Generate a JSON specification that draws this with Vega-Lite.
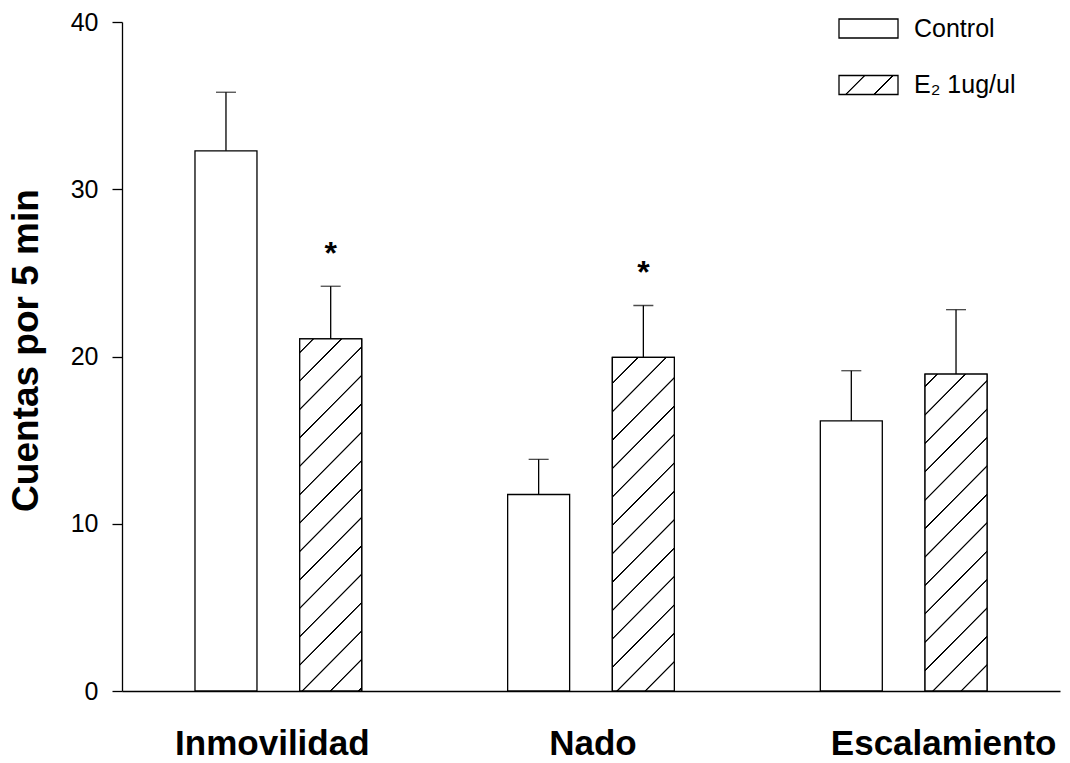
{
  "$schema": "https://vega.github.io/schema/vega-lite/v6.json",
  "autosize": "none",
  "padding": {"left": 122, "top": 22, "right": 10, "bottom": 72},
  "width": 938,
  "height": 669,
  "background": "white",
  "config": {
    "view": {"stroke": null},
    "font": "Liberation Sans"
  },
  "data": {
    "values": [
      {"cat": "Inmovilidad", "group": "Control", "value": 32.3, "err": 35.8, "sig": ""},
      {"cat": "Inmovilidad", "group": "E₂ 1ug/ul", "value": 21.05, "err": 24.2, "sig": "*"},
      {"cat": "Nado", "group": "Control", "value": 11.75, "err": 13.85, "sig": ""},
      {"cat": "Nado", "group": "E₂ 1ug/ul", "value": 19.95, "err": 23.05, "sig": "*"},
      {"cat": "Escalamiento", "group": "Control", "value": 16.15, "err": 19.15, "sig": ""},
      {"cat": "Escalamiento", "group": "E₂ 1ug/ul", "value": 18.95, "err": 22.8, "sig": ""}
    ]
  },
  "encoding": {
    "x": {
      "field": "cat", "type": "nominal",
      "sort": ["Inmovilidad", "Nado", "Escalamiento"],
      "scale": {"paddingInner": 0, "paddingOuter": 0},
      "axis": {
        "title": null, "ticks": false, "labelAngle": 0,
        "labelFontSize": 35, "labelFontWeight": "bold", "labelColor": "black",
        "labelBaseline": "alphabetic", "labelPadding": 63, "labelLimit": 0,
        "labelOverlap": false, "labelFlush": false,
        "labelOffset": {"condition": [
          {"test": "datum.value === 'Escalamiento'", "value": 40},
          {"test": "datum.value === 'Inmovilidad'", "value": -6}
        ], "value": 2},
        "domainColor": "black", "domainWidth": 1.3
      }
    },
    "xOffset": {
      "field": "group", "type": "nominal",
      "scale": {"domain": ["Control", "E₂ 1ug/ul"], "paddingInner": 0.408, "paddingOuter": 0.697}
    },
    "y": {
      "field": "value", "type": "quantitative", "title": "Cuentas por 5 min",
      "scale": {"domain": [0, 40], "nice": false},
      "axis": {
        "values": [0, 10, 20, 30, 40], "grid": false,
        "tickSize": 10, "tickColor": "black", "tickWidth": 1.3,
        "domainColor": "black", "domainWidth": 1.3,
        "labelFontSize": 25, "labelColor": "black", "labelPadding": 14,
        "titleFontSize": 37, "titleFontWeight": "bold", "titleColor": "black",
        "titleX": -85, "titleY": 328, "titleBaseline": "alphabetic", "titleAngle": -90
      }
    }
  },
  "layer": [
    {
      "transform": [{"filter": "datum.group === 'Control'"}],
      "mark": {"type": "bar", "stroke": "black", "strokeWidth": 1.3, "fill": "white"},
      "encoding": {
        "fill": {
          "field": "group", "type": "nominal",
          "scale": {"domain": ["Control"], "range": ["white"]},
          "legend": {
            "orient": "none", "legendX": 731, "legendY": -9, "title": null, "padding": 0,
            "symbolType": "M-2,-0.644H2V0.644H-2Z", "symbolSize": 870.25,
            "symbolStrokeColor": "black", "symbolStrokeWidth": 1.3, "symbolOpacity": 1,
            "labelFontSize": 25, "labelColor": "black", "labelOffset": 30, "labelLimit": 300,
            "encode": {"symbols": {"update": {"stroke": {"value": "black"}, "strokeWidth": {"value": 1.3}, "opacity": {"value": 1}}}}
          }
        }
      }
    },
    {
      "transform": [{"filter": "datum.group !== 'Control'"}],
      "mark": {"type": "bar", "strokeWidth": 1.3,
        "fill": {"gradient": "linear", "x1": 0, "y1": 0, "x2": 1.1978, "y2": 0.3857, "stops": [
          {"offset": 0, "color": "white"},
          {"offset": 0.3128, "color": "white"}, {"offset": 0.3231, "color": "black"}, {"offset": 0.3359, "color": "black"}, {"offset": 0.3462, "color": "white"},
          {"offset": 0.6756, "color": "white"}, {"offset": 0.6859, "color": "black"}, {"offset": 0.6987, "color": "black"}, {"offset": 0.7090, "color": "white"},
          {"offset": 1, "color": "white"}]}
      },
      "encoding": {
        "stroke": {
          "field": "group", "type": "nominal",
          "scale": {"domain": ["E₂ 1ug/ul"], "range": ["black"]},
          "legend": {
            "orient": "none", "legendX": 731, "legendY": 47.5, "title": null, "padding": 0,
            "symbolType": "M-2,-0.644H2V0.644H-2Z", "symbolSize": 870.25,
            "symbolStrokeWidth": 1.3, "symbolOpacity": 1,
            "labelFontSize": 25, "labelColor": "black", "labelOffset": 30, "labelLimit": 300,
            "encode": {"symbols": {"update": {"strokeWidth": {"value": 1.3}, "opacity": {"value": 1}}}}
          }
        }
      }
    },
    {
      "transform": [{"filter": "datum.cat === 'Inmovilidad' && datum.group !== 'Control'"}],
      "mark": {"type": "bar", "stroke": "black", "strokeWidth": 1.3,
        "fill": {"gradient": "linear", "x1": 0, "y1": 0, "x2": 0.2027, "y2": 1.1416, "stops": [
          {"offset": 0, "color": "white"},
          {"offset": 0.0299, "color": "white"}, {"offset": 0.0318, "color": "black"}, {"offset": 0.0343, "color": "black"}, {"offset": 0.0362, "color": "white"},
          {"offset": 0.0984, "color": "white"}, {"offset": 0.1004, "color": "black"}, {"offset": 0.1028, "color": "black"}, {"offset": 0.1047, "color": "white"},
          {"offset": 0.1669, "color": "white"}, {"offset": 0.1689, "color": "black"}, {"offset": 0.1713, "color": "black"}, {"offset": 0.1732, "color": "white"},
          {"offset": 0.2355, "color": "white"}, {"offset": 0.2374, "color": "black"}, {"offset": 0.2398, "color": "black"}, {"offset": 0.2417, "color": "white"},
          {"offset": 0.3040, "color": "white"}, {"offset": 0.3059, "color": "black"}, {"offset": 0.3083, "color": "black"}, {"offset": 0.3103, "color": "white"},
          {"offset": 0.3725, "color": "white"}, {"offset": 0.3744, "color": "black"}, {"offset": 0.3768, "color": "black"}, {"offset": 0.3788, "color": "white"},
          {"offset": 0.4410, "color": "white"}, {"offset": 0.4429, "color": "black"}, {"offset": 0.4454, "color": "black"}, {"offset": 0.4473, "color": "white"},
          {"offset": 0.5095, "color": "white"}, {"offset": 0.5115, "color": "black"}, {"offset": 0.5139, "color": "black"}, {"offset": 0.5158, "color": "white"},
          {"offset": 0.5780, "color": "white"}, {"offset": 0.5800, "color": "black"}, {"offset": 0.5824, "color": "black"}, {"offset": 0.5843, "color": "white"},
          {"offset": 0.6466, "color": "white"}, {"offset": 0.6485, "color": "black"}, {"offset": 0.6509, "color": "black"}, {"offset": 0.6528, "color": "white"},
          {"offset": 0.7151, "color": "white"}, {"offset": 0.7170, "color": "black"}, {"offset": 0.7194, "color": "black"}, {"offset": 0.7214, "color": "white"},
          {"offset": 0.7836, "color": "white"}, {"offset": 0.7855, "color": "black"}, {"offset": 0.7879, "color": "black"}, {"offset": 0.7899, "color": "white"},
          {"offset": 0.8521, "color": "white"}, {"offset": 0.8540, "color": "black"}, {"offset": 0.8565, "color": "black"}, {"offset": 0.8584, "color": "white"},
          {"offset": 0.9206, "color": "white"}, {"offset": 0.9226, "color": "black"}, {"offset": 0.9250, "color": "black"}, {"offset": 0.9269, "color": "white"},
          {"offset": 0.9891, "color": "white"}, {"offset": 0.9911, "color": "black"}, {"offset": 0.9935, "color": "black"}, {"offset": 0.9954, "color": "white"},
          {"offset": 1, "color": "white"}]}
      }
    },
    {
      "transform": [{"filter": "datum.cat === 'Nado' && datum.group !== 'Control'"}],
      "mark": {"type": "bar", "stroke": "black", "strokeWidth": 1.3,
        "fill": {"gradient": "linear", "x1": 0, "y1": 0, "x2": 0.2148, "y2": 1.1471, "stops": [
          {"offset": 0, "color": "white"},
          {"offset": 0.0623, "color": "white"}, {"offset": 0.0644, "color": "black"}, {"offset": 0.0669, "color": "black"}, {"offset": 0.0689, "color": "white"},
          {"offset": 0.1340, "color": "white"}, {"offset": 0.1360, "color": "black"}, {"offset": 0.1386, "color": "black"}, {"offset": 0.1406, "color": "white"},
          {"offset": 0.2057, "color": "white"}, {"offset": 0.2077, "color": "black"}, {"offset": 0.2103, "color": "black"}, {"offset": 0.2123, "color": "white"},
          {"offset": 0.2774, "color": "white"}, {"offset": 0.2794, "color": "black"}, {"offset": 0.2819, "color": "black"}, {"offset": 0.2840, "color": "white"},
          {"offset": 0.3491, "color": "white"}, {"offset": 0.3511, "color": "black"}, {"offset": 0.3536, "color": "black"}, {"offset": 0.3556, "color": "white"},
          {"offset": 0.4208, "color": "white"}, {"offset": 0.4228, "color": "black"}, {"offset": 0.4253, "color": "black"}, {"offset": 0.4273, "color": "white"},
          {"offset": 0.4924, "color": "white"}, {"offset": 0.4945, "color": "black"}, {"offset": 0.4970, "color": "black"}, {"offset": 0.4990, "color": "white"},
          {"offset": 0.5641, "color": "white"}, {"offset": 0.5661, "color": "black"}, {"offset": 0.5687, "color": "black"}, {"offset": 0.5707, "color": "white"},
          {"offset": 0.6358, "color": "white"}, {"offset": 0.6378, "color": "black"}, {"offset": 0.6403, "color": "black"}, {"offset": 0.6424, "color": "white"},
          {"offset": 0.7075, "color": "white"}, {"offset": 0.7095, "color": "black"}, {"offset": 0.7120, "color": "black"}, {"offset": 0.7140, "color": "white"},
          {"offset": 0.7792, "color": "white"}, {"offset": 0.7812, "color": "black"}, {"offset": 0.7837, "color": "black"}, {"offset": 0.7857, "color": "white"},
          {"offset": 0.8508, "color": "white"}, {"offset": 0.8529, "color": "black"}, {"offset": 0.8554, "color": "black"}, {"offset": 0.8574, "color": "white"},
          {"offset": 0.9225, "color": "white"}, {"offset": 0.9245, "color": "black"}, {"offset": 0.9271, "color": "black"}, {"offset": 0.9291, "color": "white"},
          {"offset": 1, "color": "white"}]}
      }
    },
    {
      "transform": [{"filter": "datum.cat === 'Escalamiento' && datum.group !== 'Control'"}],
      "mark": {"type": "bar", "stroke": "black", "strokeWidth": 1.3,
        "fill": {"gradient": "linear", "x1": 0, "y1": 0, "x2": 0.2274, "y2": 1.1524, "stops": [
          {"offset": 0, "color": "white"},
          {"offset": 0.0293, "color": "white"}, {"offset": 0.0314, "color": "black"}, {"offset": 0.0340, "color": "black"}, {"offset": 0.0361, "color": "white"},
          {"offset": 0.1041, "color": "white"}, {"offset": 0.1062, "color": "black"}, {"offset": 0.1089, "color": "black"}, {"offset": 0.1110, "color": "white"},
          {"offset": 0.1790, "color": "white"}, {"offset": 0.1811, "color": "black"}, {"offset": 0.1838, "color": "black"}, {"offset": 0.1859, "color": "white"},
          {"offset": 0.2539, "color": "white"}, {"offset": 0.2560, "color": "black"}, {"offset": 0.2586, "color": "black"}, {"offset": 0.2608, "color": "white"},
          {"offset": 0.3288, "color": "white"}, {"offset": 0.3309, "color": "black"}, {"offset": 0.3335, "color": "black"}, {"offset": 0.3356, "color": "white"},
          {"offset": 0.4036, "color": "white"}, {"offset": 0.4057, "color": "black"}, {"offset": 0.4084, "color": "black"}, {"offset": 0.4105, "color": "white"},
          {"offset": 0.4785, "color": "white"}, {"offset": 0.4806, "color": "black"}, {"offset": 0.4833, "color": "black"}, {"offset": 0.4854, "color": "white"},
          {"offset": 0.5534, "color": "white"}, {"offset": 0.5555, "color": "black"}, {"offset": 0.5581, "color": "black"}, {"offset": 0.5603, "color": "white"},
          {"offset": 0.6283, "color": "white"}, {"offset": 0.6304, "color": "black"}, {"offset": 0.6330, "color": "black"}, {"offset": 0.6351, "color": "white"},
          {"offset": 0.7031, "color": "white"}, {"offset": 0.7052, "color": "black"}, {"offset": 0.7079, "color": "black"}, {"offset": 0.7100, "color": "white"},
          {"offset": 0.7780, "color": "white"}, {"offset": 0.7801, "color": "black"}, {"offset": 0.7828, "color": "black"}, {"offset": 0.7849, "color": "white"},
          {"offset": 0.8529, "color": "white"}, {"offset": 0.8550, "color": "black"}, {"offset": 0.8576, "color": "black"}, {"offset": 0.8598, "color": "white"},
          {"offset": 0.9278, "color": "white"}, {"offset": 0.9299, "color": "black"}, {"offset": 0.9325, "color": "black"}, {"offset": 0.9346, "color": "white"},
          {"offset": 1, "color": "white"}]}
      }
    },
    {
      "mark": {"type": "rule", "color": "black", "strokeWidth": 1.3},
      "encoding": {
        "y": {"field": "value", "type": "quantitative", "title": "Cuentas por 5 min"},
        "y2": {"field": "err"}
      }
    },
    {
      "mark": {"type": "tick", "color": "black", "size": 20, "thickness": 1.3},
      "encoding": {
        "y": {"field": "err", "type": "quantitative", "title": "Cuentas por 5 min"}
      }
    },
    {
      "transform": [{"filter": "datum.sig !== ''"}],
      "mark": {"type": "text", "fontSize": 32, "fontWeight": "bold", "color": "black", "baseline": "alphabetic", "align": "center", "dy": -22},
      "encoding": {
        "y": {"field": "err", "type": "quantitative", "title": "Cuentas por 5 min"},
        "text": {"field": "sig"}
      }
    }
  ]
}
